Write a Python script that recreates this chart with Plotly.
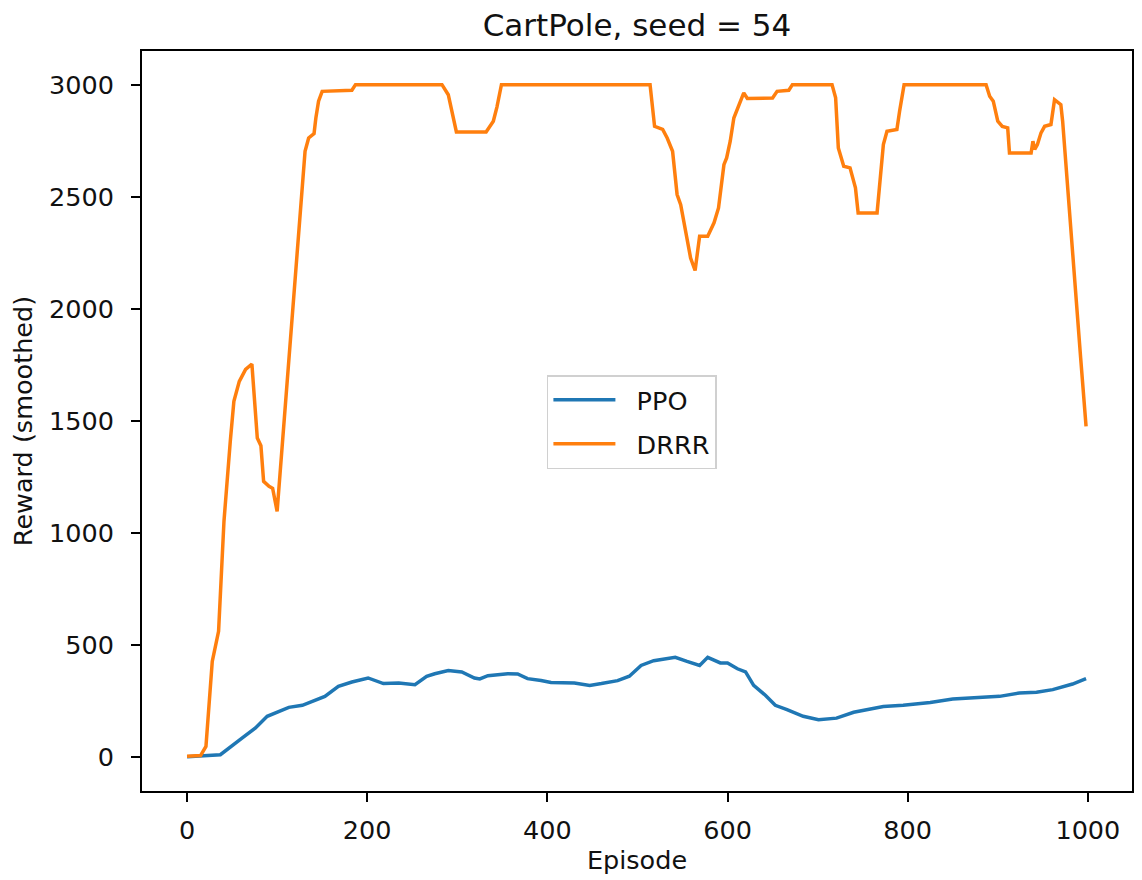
import plotly.graph_objects as go

# smoothed reward curves (episode, reward)
ppo_ep = [0, 37, 61, 76, 89, 98, 113, 128, 139, 153, 168, 183, 201, 218, 235, 253,
          266, 275, 290, 305, 319, 325, 334, 356, 367, 378, 393, 404, 430, 447, 460,
          478, 491, 504, 518, 542, 555, 569, 578, 592, 600, 611, 620, 629, 642, 653,
          666, 684, 701, 721, 740, 773, 795, 825, 850, 873, 902, 924, 943, 961, 983, 998]
ppo_reward = [3, 12, 86, 131, 183, 198, 223, 232, 250, 272, 317, 336, 354, 329, 332, 324,
              361, 373, 387, 381, 354, 350, 364, 373, 372, 351, 343, 334, 332, 321, 329,
              342, 362, 410, 431, 446, 428, 410, 446, 421, 421, 395, 381, 321, 277, 232,
              213, 183, 168, 175, 201, 227, 232, 245, 260, 265, 272, 287, 290, 302, 327, 351]

drrr_ep = [0, 15, 21, 28, 35, 41, 48, 52, 58, 65, 72, 78, 82, 85, 91, 95, 100, 106, 113,
           120, 128, 131, 135, 141, 143, 146, 150, 183, 187, 283, 290, 296, 299, 332, 340,
           344, 349, 514, 519, 528, 533, 539, 544, 548, 554, 559, 564, 569, 578, 581, 585,
           590, 596, 599, 603, 607, 610, 618, 622, 650, 655, 668, 672, 716, 720, 723, 729,
           736, 742, 745, 766, 769, 773, 777, 788, 791, 796, 887, 891, 895, 900, 905, 911,
           913, 937, 939, 941, 944, 948, 952, 959, 963, 967, 970, 972, 983, 992, 998]
drrr_reward = [5, 8, 49, 428, 562, 1053, 1409, 1588, 1677, 1730, 1754, 1424, 1390, 1231,
               1209, 1200, 1097, 1409, 1781, 2154, 2524, 2703, 2762, 2782, 2851, 2926, 2970,
               2975, 3000, 3000, 2955, 2851, 2789, 2789, 2837, 2900, 3000, 3000, 2814, 2800,
               2762, 2703, 2510, 2465, 2346, 2227, 2171, 2324, 2324, 2354, 2384, 2450, 2643,
               2673, 2748, 2851, 2880, 2963, 2938, 2940, 2970, 2975, 3000, 3000, 2941, 2718,
               2636, 2629, 2540, 2428, 2428, 2569, 2733, 2792, 2800, 2881, 3000, 3000, 2948,
               2926, 2837, 2814, 2807, 2695, 2695, 2748, 2711, 2733, 2785, 2814, 2822, 2933,
               2918, 2911, 2837, 2227, 1781, 1476]

FONT = "DejaVu Sans"
FS = 25.5  # tick / label / legend size; title is a bit larger

fig = go.Figure()
# leading nbsp gives the matplotlib-like gap between line sample and label
fig.add_scatter(x=ppo_ep, y=ppo_reward, mode="lines", name="\u00a0\u00a0PPO",
                legendgroup="ppo", line=dict(color="#1f77b4", width=3.5))
fig.add_scatter(x=drrr_ep, y=drrr_reward, mode="lines", name="\u00a0\u00a0DRRR",
                legendgroup="drrr", line=dict(color="#ff7f0e", width=3.5))

axis_style = dict(showgrid=False, zeroline=False, showline=True, mirror=True,
                  linecolor="black", linewidth=2, ticks="outside", ticklen=9,
                  tickwidth=2, tickcolor="black", tickfont=dict(size=FS, color="#111"))

# page body has an 8px margin, so the figure is drawn 8px smaller than the window
fig.update_layout(
    width=1134, height=872, autosize=False,
    paper_bgcolor="white", plot_bgcolor="white",
    font=dict(family=FONT, color="#111"),
    title=dict(text="CartPole, seed = 54", xref="paper", x=0.5, xanchor="center",
               y=0.9805, yanchor="middle", font=dict(size=31)),
    margin=dict(l=134, r=10, t=43, b=89),
    legend=dict(x=0.409, y=0.562, xanchor="left", yanchor="top",
                bgcolor="white", bordercolor="#d0d0d0", borderwidth=1.5,
                font=dict(size=FS), itemwidth=62, tracegroupgap=8,
                entrywidth=130),
)
fig.update_xaxes(range=[-50, 1049], tickvals=[0, 200, 400, 600, 800, 1000],
                 ticklabelstandoff=6,
                 title=dict(text="Episode", font=dict(size=FS), standoff=8),
                 automargin=False, **axis_style)
fig.update_yaxes(range=[-150, 3150], tickvals=[0, 500, 1000, 1500, 2000, 2500, 3000],
                 ticklabelstandoff=12,
                 title=dict(text="Reward (smoothed)", font=dict(size=FS), standoff=11),
                 automargin=False, **axis_style)

fig.write_html("out.html")
